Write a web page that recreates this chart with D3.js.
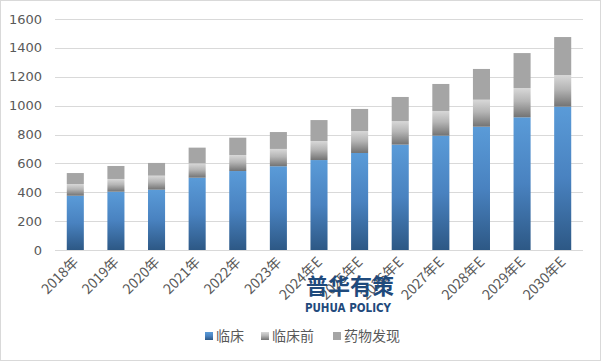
<!DOCTYPE html>
<html>
<head>
<meta charset="utf-8">
<script src="https://cdn.jsdelivr.net/npm/d3@7"></script>
<style>
  body { margin: 0; background: #fff; }
  text { font-family: "Noto Sans CJK SC", "DejaVu Sans", sans-serif; }
</style>
</head>
<body>
<svg></svg>
<script>
const width = 601,
      height = 361

const years = ["2018年", "2019年", "2020年", "2021年", "2022年", "2023年", "2024年E", "2025年E", "2026年E", "2027年E", "2028年E", "2029年E", "2030年E"]
const clinical =    [376, 404, 418, 501, 547, 580, 623, 672, 730, 792, 854, 919, 993]
const preclinical = [81, 88, 97, 99, 111, 120, 132, 152, 163, 171, 187, 203, 219]
const discovery =   [76, 90, 88, 109, 120, 117, 145, 153, 167, 187, 213, 242, 263]
const seriesNames = ["临床", "临床前", "药物发现"]
const yTicks = [0, 200, 400, 600, 800, 1000, 1200, 1400, 1600]

const svg = d3.select("svg")
  .attr("width", width)
  .attr("height", height)

svg.append("rect")
  .attr("x", 0.5).attr("y", 0.5)
  .attr("width", width - 1).attr("height", height - 1)
  .attr("fill", "#fff")
  .attr("stroke", "#d9d9d9")

const defs = svg.append("defs")
const blue = defs.append("linearGradient").attr("id", "g-blue")
  .attr("x1", 0).attr("y1", 0).attr("x2", 0).attr("y2", 1)
blue.append("stop").attr("offset", "0%").attr("stop-color", "#5a9bd8")
blue.append("stop").attr("offset", "50%").attr("stop-color", "#4982c0")
blue.append("stop").attr("offset", "100%").attr("stop-color", "#2d5885")

const grey = defs.append("linearGradient").attr("id", "g-grey")
  .attr("x1", 0).attr("y1", 0).attr("x2", 0).attr("y2", 1)
grey.append("stop").attr("offset", "0%").attr("stop-color", "#d8d8d8")
grey.append("stop").attr("offset", "45%").attr("stop-color", "#b5b5b5")
grey.append("stop").attr("offset", "100%").attr("stop-color", "#737373")

const fills = ["url(#g-blue)", "url(#g-grey)", "#a5a5a5"]

const x = d3.scaleBand()
  .domain(years)
  .range([55, 583])
  .paddingInner(0.58)
  .paddingOuter(0.29)

const y = d3.scaleLinear()
  .domain([0, 1600])
  .range([250, 19])

// gridlines
svg.append("g")
  .selectAll("line")
  .data(yTicks)
  .join("line")
    .attr("x1", 55).attr("x2", 583)
    .attr("y1", d => Math.round(y(d)) + 0.5)
    .attr("y2", d => Math.round(y(d)) + 0.5)
    .attr("stroke", "#d9d9d9")

// y labels
svg.append("g")
  .selectAll("text")
  .data(yTicks)
  .join("text")
    .attr("x", 42)
    .attr("y", d => y(d))
    .attr("dy", "0.35em")
    .attr("text-anchor", "end")
    .attr("font-size", 13)
    .attr("fill", "#595959")
    .style("font-family", "'DejaVu Sans', sans-serif")
    .text(d => d)

const table = years.map((yr, i) => ({year: yr, "临床": clinical[i], "临床前": preclinical[i], "药物发现": discovery[i]}))
const stacked = d3.stack().keys(seriesNames)(table)

svg.append("g")
  .selectAll("g")
  .data(stacked)
  .join("g")
    .attr("fill", (d, i) => fills[i])
  .selectAll("rect")
  .data(d => d)
  .join("rect")
    .attr("x", d => x(d.data.year))
    .attr("y", d => y(d[1]))
    .attr("width", x.bandwidth())
    .attr("height", d => y(d[0]) - y(d[1]))

// x labels
svg.append("g")
  .selectAll("text")
  .data(years)
  .join("text")
    .attr("transform", d => `translate(${x(d) + x.bandwidth() / 2 + 4},${263}) rotate(-45)`)
    .attr("text-anchor", "end")
    .attr("font-size", 14)
    .attr("fill", "#595959")
    .text(d => d)

// watermark
svg.append("text")
  .attr("x", 350).attr("y", 294)
  .attr("text-anchor", "middle")
  .attr("font-size", 22)
  .attr("font-weight", "bold")
  .attr("fill", "#1f4a7c")
  .text("普华有策")
svg.append("text")
  .attr("x", 348).attr("y", 312)
  .attr("text-anchor", "middle")
  .attr("font-size", 11.5)
  .attr("fill", "#1f4a7c")
  .style("font-family", "'Liberation Sans Narrow', 'DejaVu Sans Condensed', sans-serif")
  .attr("font-weight", "bold")
  .text("PUHUA POLICY")

// legend
const legendX = [205, 261, 333]
const legend = svg.append("g")
  .selectAll("g")
  .data(seriesNames)
  .join("g")
    .attr("transform", (d, i) => `translate(${legendX[i]},336)`)
legend.append("rect")
  .attr("x", 0).attr("y", -4)
  .attr("width", 8).attr("height", 8)
  .attr("fill", (d, i) => fills[i])
legend.append("text")
  .attr("x", 11).attr("dy", "0.35em")
  .attr("font-size", 14)
  .attr("fill", "#595959")
  .text(d => d)
</script>
</body>
</html>
